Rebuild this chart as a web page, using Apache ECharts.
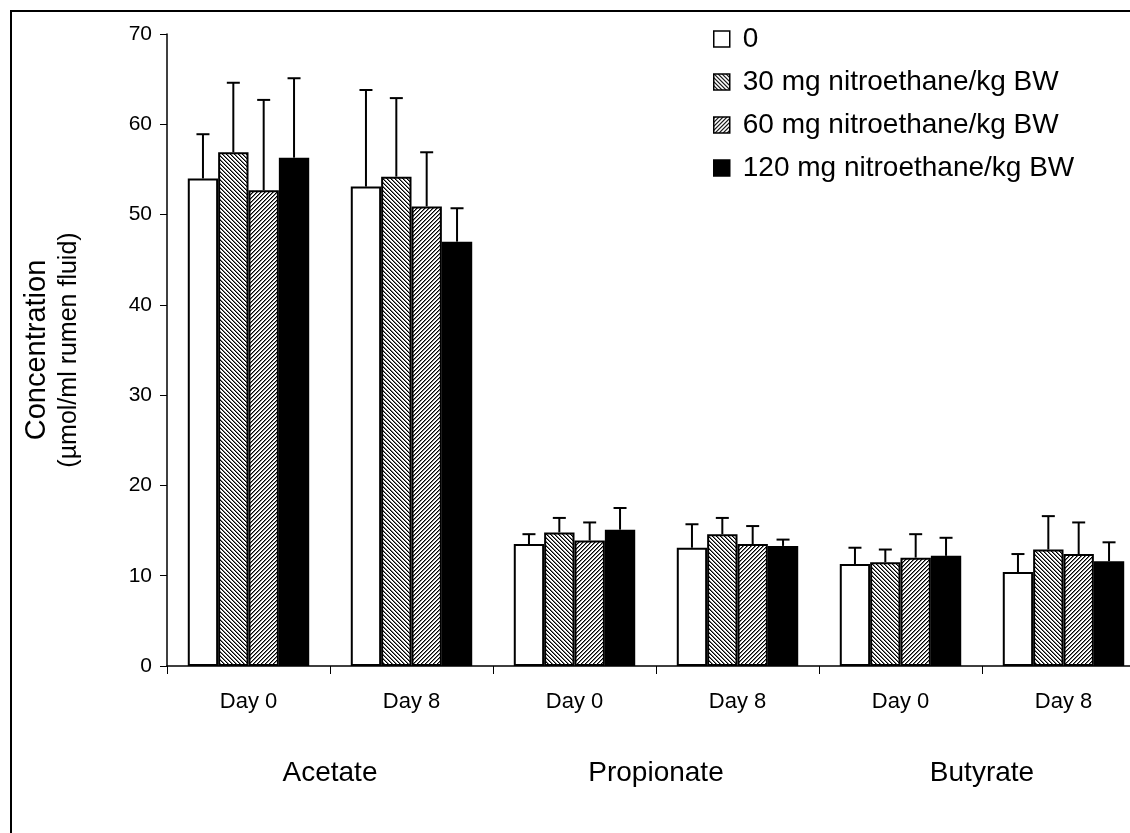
<!DOCTYPE html>
<html>
<head>
<meta charset="utf-8">
<script src="https://cdn.jsdelivr.net/npm/echarts@6/dist/echarts.min.js"></script>
<style>
html,body{margin:0;padding:0;background:#fff;}
#chart{width:1130px;height:833px;}
</style>
</head>
<body>
<div id="chart"></div>
<script>
// ---- data ----
const categories = ["Day 0", "Day 8", "Day 0", "Day 8", "Day 0", "Day 8"];
const groups = ["Acetate", "Propionate", "Butyrate"];
const seriesNames = ["0", "30 mg nitroethane/kg BW", "60 mg nitroethane/kg BW", "120 mg nitroethane/kg BW"];
const dose0 = [54.0, 53.1, 13.5, 13.1, 11.3, 10.4];
const dose30 = [56.9, 54.2, 14.8, 14.6, 11.5, 12.9];
const dose60 = [52.7, 50.9, 13.9, 13.5, 12.0, 12.4];
const dose120 = [56.3, 47.0, 15.1, 13.3, 12.2, 11.6];
const err0 = [58.9, 63.8, 14.6, 15.7, 13.1, 12.4];
const err30 = [64.6, 62.9, 16.4, 16.4, 12.9, 16.6];
const err60 = [62.7, 56.9, 15.9, 15.5, 14.6, 15.9];
const err120 = [65.1, 50.7, 17.5, 14.0, 14.2, 13.7];
const yTicks = [0, 10, 20, 30, 40, 50, 60, 70];

const values = [dose0, dose30, dose60, dose120];
const errTops = [err0, err30, err60, err120];

// ---- patterns ----
function stripe(dir) {
  const n = 4;
  const c = document.createElement('canvas');
  c.width = n; c.height = n;
  const ctx = c.getContext('2d');
  const img = ctx.createImageData(n, n);
  for (let y = 0; y < n; y++) {
    for (let x = 0; x < n; x++) {
      const m = (((dir > 0 ? x - y : x + y) % n) + n) % n;
      let v = 255;
      if (m === 0) v = 0; else if (m === 1) v = 120;
      const i = (y * n + x) * 4;
      img.data[i] = v; img.data[i + 1] = v; img.data[i + 2] = v; img.data[i + 3] = 255;
    }
  }
  ctx.putImageData(img, 0, 0);
  return { image: c, repeat: 'repeat' };
}
const fills = ['#ffffff', stripe(1), stripe(-1), '#000000'];

const CAT_GAP = 0.255;
const FONT = '"Liberation Sans", Arial, sans-serif';

const chart = echarts.init(document.getElementById('chart'));

const series = [];
values.forEach((vals, k) => {
  series.push({
    name: seriesNames[k],
    type: 'bar',
    data: vals,
    barGap: '0%',
    barCategoryGap: (CAT_GAP * 100) + '%',
    itemStyle: { color: fills[k], borderColor: '#000', borderWidth: 2 },
    emphasis: { disabled: true },
    z: 2
  });
});
values.forEach((vals, k) => {
  series.push({
    type: 'custom',
    silent: true,
    z: 3,
    encode: { x: 0, y: 1 },
    data: vals.map((v, i) => [i, errTops[k][i], v]),
    renderItem: function (params, api) {
      const cat = api.value(0);
      const top = api.value(1);
      const base = api.value(2);
      const bw = api.size([1, 0])[0] * (1 - CAT_GAP) / 4;
      const off = (k - 1.5) * bw;
      const p1 = api.coord([cat, base]);
      const p2 = api.coord([cat, top]);
      const x = p1[0] + off;
      const st = { stroke: '#000', lineWidth: 2 };
      return {
        type: 'group',
        children: [
          { type: 'line', shape: { x1: x, y1: p1[1], x2: x, y2: p2[1] }, style: st },
          { type: 'line', shape: { x1: x - 6.5, y1: p2[1], x2: x + 6.5, y2: p2[1] }, style: st }
        ]
      };
    }
  });
});

chart.setOption({
  animation: false,
  backgroundColor: '#fff',
  textStyle: { fontFamily: FONT, color: '#000' },
  grid: { left: 167, top: 34, width: 978, height: 632, outerBoundsMode: 'none', containLabel: false },
  legend: {
    data: seriesNames,
    orient: 'vertical',
    left: 713,
    top: 25,
    padding: 0,
    itemWidth: 16,
    itemHeight: 16,
    itemGap: 15,
    icon: 'rect',
    selectedMode: false,
    textStyle: { fontFamily: FONT, fontSize: 28, color: '#000', lineHeight: 28, padding: [0, 0, 0, 8] },
    itemStyle: { borderColor: '#000', borderWidth: 1.5 }
  },
  xAxis: [
    {
      type: 'category',
      data: categories,
      axisLine: { lineStyle: { color: '#000', width: 1.5 } },
      axisTick: { show: true, length: 8, lineStyle: { color: '#000', width: 1 } },
      axisLabel: { fontFamily: FONT, fontSize: 22, color: '#000', margin: 25 },
      splitLine: { show: false }
    },
    {
      type: 'category',
      data: groups,
      position: 'bottom',
      axisLine: { show: false },
      axisTick: { show: false },
      axisLabel: { fontFamily: FONT, fontSize: 28, color: '#000', margin: 93 },
      splitLine: { show: false }
    }
  ],
  yAxis: {
    type: 'value',
    min: yTicks[0],
    max: yTicks[yTicks.length - 1],
    interval: 10,
    name: '{a|Concentration}\n{b|(µmol/ml rumen fluid)}',
    nameLocation: 'middle',
    nameRotate: 90,
    nameGap: 82,
    nameTextStyle: {
      fontFamily: FONT, color: '#000',
      rich: {
        a: { fontFamily: FONT, fontSize: 29, lineHeight: 32, color: '#000' },
        b: { fontFamily: FONT, fontSize: 25, lineHeight: 32, color: '#000' }
      }
    },
    axisLine: { show: true, lineStyle: { color: '#000', width: 1.5 } },
    axisTick: { show: true, length: 7, lineStyle: { color: '#000', width: 1 } },
    axisLabel: { fontFamily: FONT, fontSize: 21, color: '#000', margin: 15 },
    splitLine: { show: false }
  },
  graphic: [
    {
      type: 'rect',
      silent: true,
      shape: { x: 11, y: 11, width: 1300, height: 1000 },
      style: { fill: 'none', stroke: '#000', lineWidth: 2 }
    }
  ],
  series: series
});
</script>
</body>
</html>
